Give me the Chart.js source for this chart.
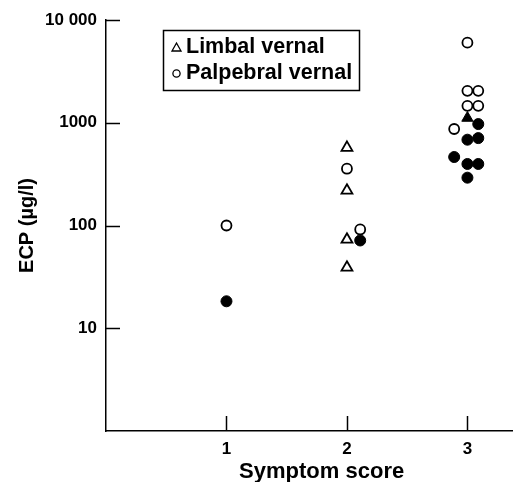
<!DOCTYPE html>
<html>
<head>
<meta charset="utf-8">
<script src="https://cdn.jsdelivr.net/npm/chart.js@4/dist/chart.umd.min.js"></script>
<style>
  html, body { margin: 0; padding: 0; background: #fff; }
  #wrap { width: 513px; height: 482px; }
</style>
</head>
<body>
<div id="wrap"><canvas id="c" width="513" height="482"></canvas></div>
<script>
// ---- data ----
const xTicks = [1, 2, 3];
const yTicks = [10, 100, 1000, 10000];
const yTickLabels = ['10', '100', '1000', '10 000'];

const limbalOpenX = [2, 2, 2, 2];
const limbalOpenY = [572, 219, 73, 39];

const palpebralOpenX = [1, 2, 2.11, 3, 3, 3.09, 3, 3.09, 2.89];
const palpebralOpenY = [100, 357, 91.5, 6020, 2046, 2046, 1462, 1462, 869];

const filledCircleX = [1, 2.11, 3.09, 3, 3.09, 2.89, 3, 3.09, 3];
const filledCircleY = [18.3, 71.5, 971, 684, 709, 464, 397, 397, 292];

const filledTriangleX = [3];
const filledTriangleY = [1112];

const seriesNames = ['Limbal vernal', 'Palpebral vernal', 'Palpebral vernal (filled)', 'Limbal vernal (filled)'];
const xTitle = 'Symptom score';
const yTitle = 'ECP (\u00b5g/l)';

function pts(xs, ys) { return xs.map((x, i) => ({ x: x, y: ys[i] })); }

const FONT = "'Liberation Sans', Arial, Helvetica, sans-serif";

const insideTicks = {
  id: 'insideTicks',
  afterDraw(chart) {
    const ctx = chart.ctx;
    const xs = chart.scales.x, ys = chart.scales.y;
    const a = chart.chartArea;
    ctx.save();
    ctx.strokeStyle = '#000';
    ctx.lineWidth = 1.5;
    yTicks.forEach(v => {
      const py = Math.round(ys.getPixelForValue(v)) + 0.5;
      ctx.beginPath(); ctx.moveTo(a.left, py); ctx.lineTo(a.left + 14, py); ctx.stroke();
    });
    xTicks.forEach(v => {
      const px = Math.round(xs.getPixelForValue(v)) + 0.5;
      ctx.beginPath(); ctx.moveTo(px, a.bottom); ctx.lineTo(px, a.bottom - 15); ctx.stroke();
    });
    // x axis title (offset to the right as in the reference)
    ctx.font = "bold 22px " + FONT;
    ctx.fillStyle = '#000';
    ctx.textAlign = 'center';
    ctx.textBaseline = 'alphabetic';
    ctx.fillText(xTitle, xs.getPixelForValue(1.79), 478);
    ctx.restore();
  }
};

const boxLegend = {
  id: 'boxLegend',
  afterDraw(chart) {
    const ctx = chart.ctx;
    ctx.save();
    ctx.strokeStyle = '#000';
    ctx.lineWidth = 1.5;
    ctx.strokeRect(163.5, 30.5, 196, 60);
    ctx.font = "bold 21.5px " + FONT;
    ctx.fillStyle = '#000';
    ctx.textBaseline = 'middle';
    ctx.textAlign = 'left';
    ctx.lineWidth = 1.3;
    ctx.beginPath();
    ctx.moveTo(176.5, 43); ctx.lineTo(181, 51); ctx.lineTo(172, 51); ctx.closePath(); ctx.stroke();
    ctx.fillText(chart.data.datasets[0].label, 186, 47);
    ctx.beginPath(); ctx.arc(176.5, 73.5, 3.6, 0, Math.PI * 2); ctx.stroke();
    ctx.fillText(chart.data.datasets[1].label, 186, 73.5);
    ctx.restore();
  }
};

new Chart(document.getElementById('c'), {
  type: 'scatter',
  data: {
    datasets: [
      { label: seriesNames[0], data: pts(limbalOpenX, limbalOpenY), pointStyle: 'triangle', radius: 6.3,
        backgroundColor: '#fff', borderColor: '#000', borderWidth: 1.8 },
      { label: seriesNames[1], data: pts(palpebralOpenX, palpebralOpenY), pointStyle: 'circle', radius: 5,
        backgroundColor: '#fff', borderColor: '#000', borderWidth: 1.8 },
      { label: seriesNames[2], data: pts(filledCircleX, filledCircleY), pointStyle: 'circle', radius: 5.5,
        backgroundColor: '#000', borderColor: '#000', borderWidth: 1 },
      { label: seriesNames[3], data: pts(filledTriangleX, filledTriangleY), pointStyle: 'triangle', radius: 6.5,
        backgroundColor: '#000', borderColor: '#000', borderWidth: 1 }
    ]
  },
  options: {
    responsive: false,
    animation: false,
    layout: { autoPadding: false, padding: { top: 20, right: 1, bottom: 0, left: 0 } },
    plugins: { legend: { display: false }, tooltip: { enabled: false } },
    scales: {
      x: {
        type: 'linear', min: 0, max: 3.37,
        afterBuildTicks(s) { s.ticks = xTicks.map(v => ({ value: v })); },
        afterFit(s) { s.height = 51; s.paddingLeft = 0; s.paddingRight = 0; },
        grid: { display: false, drawTicks: false },
        border: { display: true, color: '#000', width: 1.5 },
        ticks: { color: '#000', padding: 8, font: { family: FONT, size: 17, weight: 'bold' },
                 callback: v => String(v) },
        title: { display: false, text: xTitle }
      },
      y: {
        type: 'logarithmic', min: 1, max: 10000,
        afterBuildTicks(s) { s.ticks = yTicks.map(v => ({ value: v })); },
        afterFit(s) { s.width = 106; s.paddingTop = 0; s.paddingBottom = 0; },
        grid: { display: false, drawTicks: false },
        border: { display: true, color: '#000', width: 1.5 },
        ticks: { color: '#000', padding: 9, font: { family: FONT, size: 17, weight: 'bold' },
                 callback: (v) => { const i = yTicks.indexOf(v); return i >= 0 ? yTickLabels[i] : ''; } },
        title: { display: true, text: yTitle, color: '#000', padding: { top: 15, bottom: 0 },
                 font: { family: FONT, size: 20, weight: 'bold' } }
      }
    }
  },
  plugins: [insideTicks, boxLegend]
});
</script>
</body>
</html>
